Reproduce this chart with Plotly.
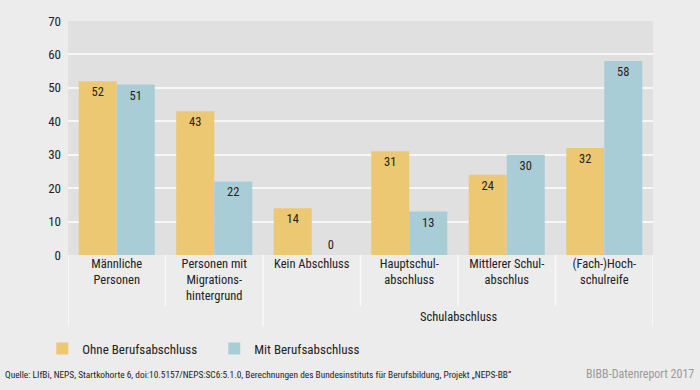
import plotly.graph_objects as go

categories = ["Männliche<br>Personen", "Personen mit<br>Migrations-<br>hintergrund", "Kein Abschluss",
              "Hauptschul-<br>abschluss", "Mittlerer Schul-<br>abschlus", "(Fach-)Hoch-<br>schulreife"]
ohne = [52, 43, 14, 31, 24, 32]
mit = [51, 22, 0, 13, 30, 58]
series_names = ["Ohne Berufsabschluss", "Mit Berufsabschluss"]
group_label = "Schulabschluss"
y_ticks = [0, 10, 20, 30, 40, 50, 60, 70]

FONT = "Roboto Condensed, DejaVu Sans Condensed, sans-serif"
YELLOW = "#ecc873"
BLUE = "#a9cdd7"

def positions(vals):
    return ["outside" if v == 0 else "inside" for v in vals]

def f(size, color="#222222"):
    return dict(family=FONT, size=size, color=color)

fig = go.Figure()
for name, vals, col in [(series_names[0], ohne, YELLOW), (series_names[1], mit, BLUE)]:
    fig.add_trace(go.Bar(
        x=categories, y=vals, name=name, marker=dict(color=col, line=dict(width=0)),
        text=[str(v) for v in vals], textposition=positions(vals),
        insidetextanchor="end", textangle=0,
        textfont=f(12.5), outsidetextfont=f(12.5),
        cliponaxis=False,
    ))

shapes = []
for b in [-0.5, 0.5, 1.5, 2.5, 3.5, 4.5, 5.5]:
    long = b in (-0.5, 1.5, 5.5)
    shapes.append(dict(type="line", xref="x", yref="paper", x0=b, x1=b,
                       y0=0, y1=-0.306 if long else -0.218,
                       line=dict(color="#fafafa", width=1.5), layer="below"))

fig.update_layout(
    width=700, height=390,
    margin=dict(l=68, r=47, t=21, b=135),
    paper_bgcolor="#ececec", plot_bgcolor="#e0e0e0",
    barmode="group", bargap=0.22, bargroupgap=0,
    font=f(12.5),
    uniformtext=dict(minsize=8, mode="show"),
    xaxis=dict(type="category", showgrid=False, ticks="", tickfont=f(12.5),
               showline=False, zeroline=False, range=[-0.5, 5.5], ticklabelstandoff=-1),
    yaxis=dict(range=[0, 70], tickvals=y_ticks, showgrid=True, gridcolor="#f7f7f7",
               gridwidth=2, zeroline=False, showline=False, ticks="",
               tickfont=f(13), ticklabelstandoff=6),
    legend=dict(orientation="h", x=-0.044, xref="paper", y=-0.40, yanchor="middle",
                xanchor="left", font=f(13), bgcolor="rgba(0,0,0,0)",
                itemwidth=30, entrywidth=127, traceorder="normal"),
    shapes=shapes,
    annotations=[
        dict(text=group_label, xref="x", yref="paper", x=3.5, y=-0.262, yanchor="middle",
             showarrow=False, font=f(12.5)),
        dict(text="Quelle: LIfBi, NEPS, Startkohorte 6, doi:10.5157/NEPS:SC6:5.1.0, Berechnungen des Bundesinstituts für Berufsbildung, Projekt „NEPS-BB“",
             xref="paper", yref="paper", x=-65/585, xanchor="left", y=-(374-255)/234, yanchor="middle",
             showarrow=False, font=f(9.4)),
        dict(text="BIBB-Datenreport 2017", xref="paper", yref="paper", x=(696-68)/585, xanchor="right",
             y=-(374-255)/234, yanchor="middle", showarrow=False, font=f(12, "#9a9a9a")),
    ],
)

fig.write_html("out.html", config={"displayModeBar": False})
with open("out.html", encoding="utf-8") as fh:
    html = fh.read()
html = html.replace("<head>", "<head><style>html,body{margin:0;padding:0;overflow:hidden}</style>", 1)
with open("out.html", "w", encoding="utf-8") as fh:
    fh.write(html)
